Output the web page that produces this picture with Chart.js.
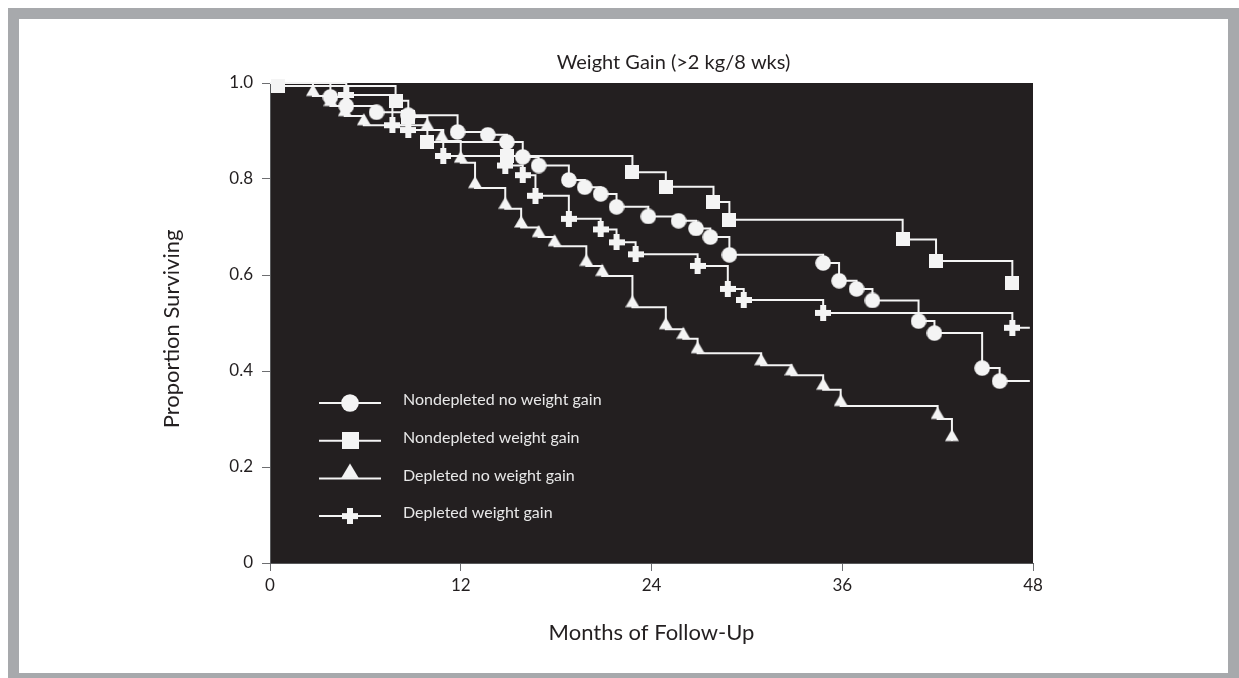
<!DOCTYPE html>
<html><head><meta charset="utf-8">
<script src="https://cdn.jsdelivr.net/npm/chart.js@4/dist/chart.umd.min.js"></script>
<style>
html,body{margin:0;padding:0;background:#fff;width:1239px;height:678px;overflow:hidden;}
#frame{position:absolute;left:8px;top:8px;width:1209px;height:654px;border:11px solid #a7a9ac;}
#wrap{position:absolute;left:0;top:0;width:1239px;height:678px;}
</style></head><body>
<div id="frame"></div>
<div id="wrap"><canvas id="c" width="1239" height="678"></canvas></div>
<script>
const chartTitle = 'Weight Gain (>2 kg/8 wks)';
const xTitle = 'Months of Follow-Up';
const yTitle = 'Proportion Surviving';
const seriesLabels = ['Nondepleted no weight gain', 'Nondepleted weight gain', 'Depleted no weight gain', 'Depleted weight gain'];
const xTicks = [0, 12, 24, 36, 48];
const yTicks = [0, 0.2, 0.4, 0.6, 0.8, 1.0];
const yTickLabels = ['0', '0.2', '0.4', '0.6', '0.8', '1.0'];

// Nondepleted no weight gain (circles)
const circleMonths = [0, 3.8, 4.8, 6.7, 8.7, 11.8, 13.7, 14.9, 15.9, 16.9, 18.8, 19.8, 20.8, 21.8, 23.8, 25.7, 26.8, 27.7, 28.9, 34.8, 35.8, 36.9, 37.9, 40.8, 41.8, 44.8, 45.9, 47.8];
const circleSurv   = [1, 0.971, 0.952, 0.939, 0.933, 0.898, 0.892, 0.877, 0.846, 0.828, 0.798, 0.783, 0.769, 0.742, 0.722, 0.713, 0.697, 0.679, 0.642, 0.625, 0.588, 0.571, 0.547, 0.504, 0.479, 0.406, 0.379, 0.379];
// Nondepleted weight gain (squares)
const squareMonths = [0, 0.5, 7.9, 8.7, 9.9, 14.9, 22.8, 24.9, 27.9, 28.9, 39.8, 41.9, 46.7];
const squareSurv   = [1, 0.994, 0.963, 0.929, 0.877, 0.848, 0.814, 0.784, 0.752, 0.715, 0.674, 0.629, 0.584];
// Depleted no weight gain (triangles)
const triMonths = [0, 2.7, 3.8, 4.7, 5.9, 9.9, 10.8, 12.0, 12.9, 14.8, 15.8, 16.9, 17.9, 19.9, 20.9, 22.8, 24.9, 26.0, 26.9, 30.9, 32.8, 34.8, 35.9, 42.0, 42.9];
const triSurv   = [1, 0.973, 0.952, 0.931, 0.912, 0.902, 0.879, 0.834, 0.781, 0.738, 0.699, 0.679, 0.660, 0.619, 0.598, 0.533, 0.487, 0.467, 0.437, 0.412, 0.391, 0.361, 0.327, 0.300, 0.254];
// Depleted weight gain (plus)
const plusMonths = [0, 4.8, 7.7, 8.7, 10.9, 14.8, 15.9, 16.7, 18.8, 20.8, 21.8, 23.0, 26.9, 28.8, 29.8, 34.8, 46.7, 47.8];
const plusSurv   = [1, 0.975, 0.912, 0.902, 0.848, 0.828, 0.808, 0.765, 0.717, 0.695, 0.668, 0.643, 0.619, 0.571, 0.548, 0.521, 0.490, 0.490];

const FONT = 'Lato, "Open Sans", sans-serif';
const WHITE = '#f4f4f4';

function mk(w, h, draw) {
  const c = document.createElement('canvas');
  c.width = w; c.height = h;
  const g = c.getContext('2d');
  g.fillStyle = WHITE;
  draw(g);
  return c;
}
function circleMk(d) { return mk(d, d, g => { g.beginPath(); g.arc(d / 2, d / 2, d / 2 - 0.2, 0, Math.PI * 2); g.fill(); }); }
function squareMk(d) { return mk(d, d, g => { g.fillRect(0, 0, d, d); }); }
function triMk(w, h) { return mk(w, 2 * h + 1, g => { g.beginPath(); g.moveTo(0, h + 0.5); g.lineTo(w, h + 0.5); g.lineTo(w / 2, 0.5); g.closePath(); g.fill(); }); }
function plusMk(d, t) { const o = (d - t) / 2; return mk(d, d, g => { g.fillRect(o, 0, t, d); g.fillRect(0, o, d, t); }); }

const markerImgs = [circleMk(16), squareMk(14), triMk(14, 12), plusMk(16, 6)];
const legendImgs = [circleMk(18), squareMk(17), triMk(18, 15), plusMk(16, 6)];

function toPts(m, s) { return m.map((v, i) => ({ x: v, y: s[i] })); }
const seriesData = [toPts(circleMonths, circleSurv), toPts(squareMonths, squareSurv), toPts(triMonths, triSurv), toPts(plusMonths, plusSurv)];

function radiusFn(ctx) {
  const d = ctx.dataset.data;
  const i = ctx.dataIndex;
  if (i === 0) return 0;
  if (d[i].y === d[i - 1].y) return 0;
  return 8;
}

const datasets = seriesLabels.map((lab, k) => ({
  label: lab,
  data: seriesData[k],
  stepped: 'before',
  borderColor: WHITE,
  borderWidth: 2,
  fill: false,
  clip: false,
  pointStyle: markerImgs[k],
  pointRadius: radiusFn,
  pointHoverRadius: radiusFn,
  pointBackgroundColor: WHITE,
  pointBorderColor: WHITE
}));

const decor = {
  id: 'decor',
  beforeDraw(chart) {
    const a = chart.chartArea, c = chart.ctx;
    c.save();
    c.fillStyle = '#231f20';
    c.fillRect(a.left, a.top, a.right - a.left, a.bottom - a.top);
    c.restore();
  },
  afterDraw(chart) {
    const a = chart.chartArea, c = chart.ctx;
    c.save();
    c.fillStyle = '#231f20';
    c.textAlign = 'center';
    c.textBaseline = 'middle';
    c.font = '20px ' + FONT;
    c.fillText(chartTitle, (a.left + a.right) / 2 + 22, 63);
    c.font = '22px ' + FONT;
    c.fillText(xTitle, (a.left + a.right) / 2, 633);
    c.translate(172, (a.top + a.bottom) / 2 + 6);
    c.rotate(-Math.PI / 2);
    c.fillText(yTitle, 0, 0);
    c.restore();
    // legend
    c.save();
    c.font = '16px ' + FONT;
    c.textAlign = 'left';
    c.textBaseline = 'middle';
    chart.data.datasets.forEach((ds, i) => {
      const y = 403 + 37.7 * i;
      c.strokeStyle = WHITE;
      c.lineWidth = 2;
      c.beginPath(); c.moveTo(319, y); c.lineTo(381, y); c.stroke();
      const img = legendImgs[i];
      c.drawImage(img, 350 - img.width / 2, y - img.height / 2);
      c.fillStyle = '#e8e8e8';
      c.fillText(ds.label, 403, y - 3);
    });
    c.restore();
  }
};

new Chart(document.getElementById('c'), {
  type: 'line',
  data: { datasets },
  options: {
    responsive: false,
    animation: false,
    devicePixelRatio: 1,
    layout: { padding: { left: 150, top: 83, right: 206, bottom: 0 } },
    plugins: { legend: { display: false }, tooltip: { enabled: false }, title: { display: false } },
    scales: {
      x: {
        type: 'linear', min: 0, max: 48,
        afterFit(s) { s.height = 115; },
        afterBuildTicks(s) { s.ticks = xTicks.map(v => ({ value: v })); },
        ticks: { color: '#231f20', font: { family: FONT, size: 17 }, padding: 4, maxRotation: 0 },
        grid: { drawOnChartArea: false, drawTicks: true, tickLength: 8, color: '#6d6e71' },
        border: { display: true, color: '#58595b' }
      },
      y: {
        type: 'linear', min: 0, max: 1,
        afterFit(s) { s.width = 120; },
        afterBuildTicks(s) { s.ticks = yTicks.map(v => ({ value: v })); },
        ticks: { color: '#231f20', font: { family: FONT, size: 17 }, padding: 9,
          callback: (v, i) => yTickLabels[i] },
        grid: { drawOnChartArea: false, drawTicks: true, tickLength: 8, color: '#6d6e71' },
        border: { display: true, color: '#58595b' }
      }
    }
  },
  plugins: [decor]
});
</script>
</body></html>
